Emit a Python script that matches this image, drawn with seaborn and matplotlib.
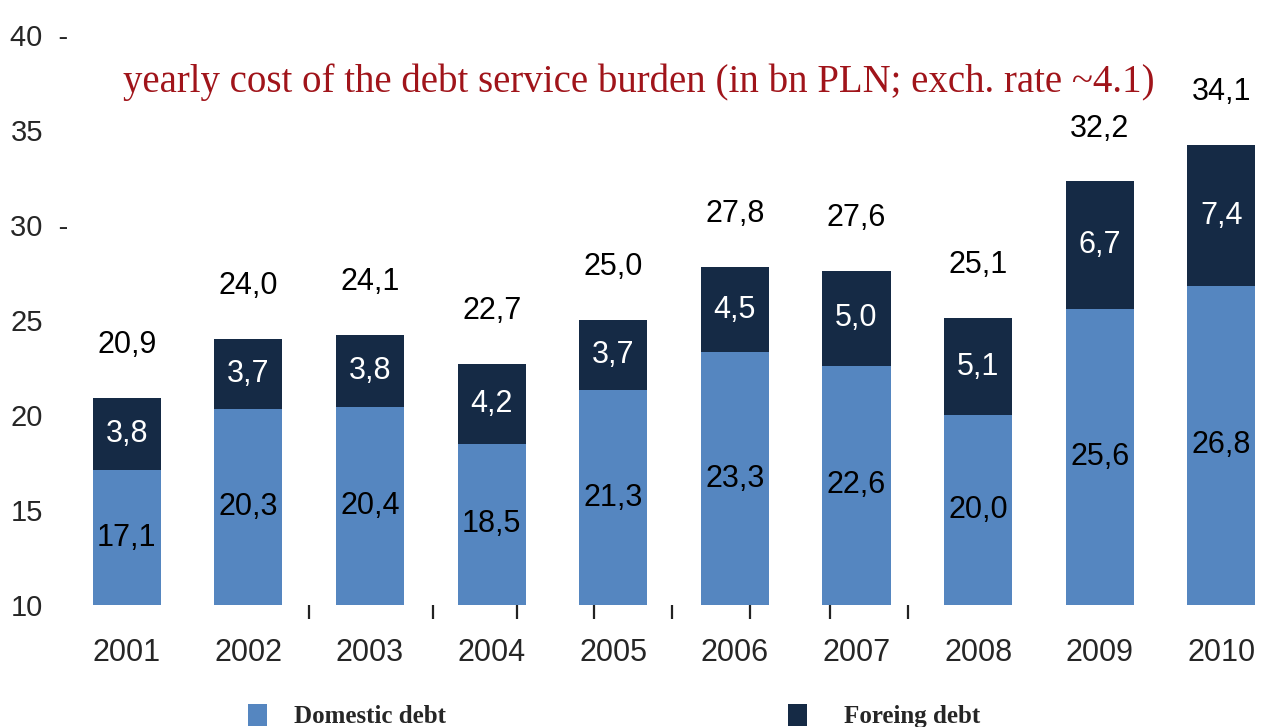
import matplotlib
matplotlib.use("Agg")
import matplotlib.pyplot as plt
from matplotlib.patches import Patch
import seaborn as sns
import pandas as pd

years = ["2001", "2002", "2003", "2004", "2005", "2006", "2007", "2008", "2009", "2010"]
domestic = [17.1, 20.3, 20.4, 18.5, 21.3, 23.3, 22.6, 20.0, 25.6, 26.8]
foreign = [3.8, 3.7, 3.8, 4.2, 3.7, 4.5, 5.0, 5.1, 6.7, 7.4]
totals = [20.9, 24.0, 24.1, 22.7, 25.0, 27.8, 27.6, 25.1, 32.2, 34.1]
ytick_values = [10, 15, 20, 25, 30, 35, 40]
ytick_labels = ["10", "15", "20", "25", "30  -", "35", "40  -"]
minor_marks = [1.50, 2.52, 3.21, 3.84, 4.48, 5.12, 5.78, 6.42]
title = "yearly cost of the debt service burden (in bn PLN; exch. rate ~4.1)"

DOM_C = "#5586C0"
FOR_C = "#152A45"

sns.set_style("white")
plt.rcParams["font.family"] = ["Liberation Sans", "DejaVu Sans"]

df = pd.DataFrame({"year": years, "domestic": domestic, "foreign": foreign})
df["stack"] = df["domestic"] + df["foreign"]

fig = plt.figure(figsize=(12.62, 7.27), dpi=100)
ax = fig.add_axes([66 / 1262, 1 - 605 / 727, 1 - 66 / 1262, (605 - 35) / 727])

sns.barplot(data=df, x="year", y="stack", color=FOR_C, width=0.56,
            saturation=1, ax=ax, linewidth=0)
sns.barplot(data=df, x="year", y="domestic", color=DOM_C, width=0.56,
            saturation=1, ax=ax, linewidth=0)

ax.set_ylim(10, 40)
ax.set_xlim(-0.5, (1262 - 127) / 121.6)
for s in ax.spines.values():
    s.set_visible(False)
ax.set_xlabel("")
ax.set_ylabel("")

ax.set_yticks(ytick_values)
ax.set_yticklabels(ytick_labels, ha="left", fontsize=21)
ax.tick_params(axis="y", length=0, pad=40)
ax.tick_params(axis="x", which="major", length=0, pad=24, labelsize=22)
ax.set_xticks(minor_marks, minor=True)
ax.tick_params(axis="x", which="minor", bottom=True, length=10, width=1.6,
               color="#222222", direction="out", pad=0)

ymin = ax.get_ylim()[0]
for i in range(len(years)):
    d, f, t = domestic[i], foreign[i], totals[i]
    ax.text(i, (ymin + d) / 2, f"{d:.1f}".replace(".", ","), ha="center",
            va="center", fontsize=22, color="black")
    ax.text(i, d + f / 2, f"{f:.1f}".replace(".", ","), ha="center",
            va="center", fontsize=22, color="white")
    ax.annotate(f"{t:.1f}".replace(".", ","), xy=(i, d + f), xytext=(0, 38),
                textcoords="offset points", ha="center", va="center",
                fontsize=22, color="black", annotation_clip=False)

fig.text(639 / 1262, 1 - 82 / 727, title, ha="center", va="center",
         fontsize=28, color="#A0141A", family=["Liberation Serif", "DejaVu Serif"])

leg_font = {"family": ["Liberation Serif", "DejaVu Serif"], "weight": "bold", "size": 18}
leg1 = fig.legend(handles=[Patch(facecolor=DOM_C, edgecolor="none")],
                  labels=["Domestic debt"], loc="center left",
                  bbox_to_anchor=(248 / 1262, 1 - 716 / 727), frameon=False,
                  prop=leg_font, handlelength=0.75, handleheight=1.0,
                  handletextpad=1.1, borderpad=0, borderaxespad=0)
leg2 = fig.legend(handles=[Patch(facecolor=FOR_C, edgecolor="none")],
                  labels=["Foreing debt"], loc="center left",
                  bbox_to_anchor=(788 / 1262, 1 - 716 / 727), frameon=False,
                  prop=leg_font, handlelength=0.75, handleheight=1.0,
                  handletextpad=1.5, borderpad=0, borderaxespad=0)

fig.savefig("out.png", dpi=100)
